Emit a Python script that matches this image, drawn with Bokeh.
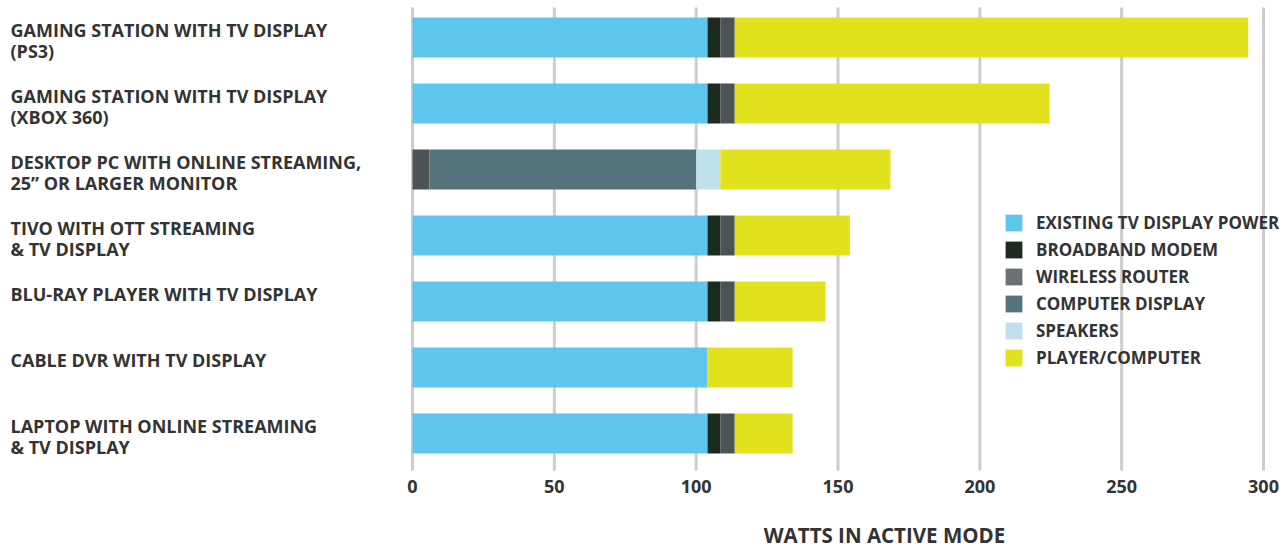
from bokeh.plotting import figure
from bokeh.models import (ColumnDataSource, Range1d, LabelSet, Label, Legend,
                          LegendItem, FixedTicker)
from bokeh.core.properties import value
from bokeh.embed import file_html
from bokeh.resources import INLINE

categories = [
    "GAMING STATION WITH TV DISPLAY\n(PS3)",
    "GAMING STATION WITH TV DISPLAY\n(XBOX 360)",
    "DESKTOP PC WITH ONLINE STREAMING,\n25\u201d OR LARGER MONITOR",
    "TIVO WITH OTT STREAMING\n& TV DISPLAY",
    "BLU-RAY PLAYER WITH TV DISPLAY",
    "CABLE DVR WITH TV DISPLAY",
    "LAPTOP WITH ONLINE STREAMING\n& TV DISPLAY",
]
tv_display = [104, 104, 0, 104, 104, 104, 104]
broadband_modem = [4.6, 4.6, 0, 4.6, 4.6, 0, 4.6]
wireless_router = [5.0, 5.0, 6.0, 5.0, 5.0, 0, 5.0]
computer_display = [0, 0, 94, 0, 0, 0, 0]
speakers = [0, 0, 8.5, 0, 0, 0, 0]
player_computer = [181, 111, 60, 40.6, 32, 30, 20.4]

series_names = ["EXISTING TV DISPLAY POWER", "BROADBAND MODEM", "WIRELESS ROUTER",
                "COMPUTER DISPLAY", "SPEAKERS", "PLAYER/COMPUTER"]
x_ticks = [0, 50, 100, 150, 200, 250, 300]
x_title = "WATTS IN ACTIVE MODE"

bar_colors = ["#5ec5ec", "#1c2a1f", "#4b5355", "#56727d", "#bfe0ea", "#e1e21d"]
legend_colors = ["#5ec5ec", "#1c2a1f", "#6d7173", "#56727d", "#bfe0ea", "#e1e21d"]

BAR_H = 0.606
keys = ["tv", "modem", "router", "display", "speakers", "player"]
ypos = list(range(len(categories)))
source = ColumnDataSource(dict(
    y=ypos, label_y=[v - BAR_H / 2 for v in ypos], label=categories,
    tv=tv_display, modem=broadband_modem, router=wireless_router,
    display=computer_display, speakers=speakers, player=player_computer))

# frame spans the whole canvas; x=0 sits at 412px, x=300 at 1263px
PX_PER_UNIT = (1263 - 412) / 300.0
X_START = -412 / PX_PER_UNIT
X_END = 300 + (1282 - 1263) / PX_PER_UNIT
ROW_PX = 66.0
Y_TOP = -37 / ROW_PX
Y_BOTTOM = (548 - 37) / ROW_PX
AXIS_Y = (470 - 37) / ROW_PX
GRID_TOP = -30 / ROW_PX

p = figure(width=1282, height=548, output_backend="svg", toolbar_location=None,
           x_range=Range1d(X_START, X_END), y_range=Range1d(Y_BOTTOM, Y_TOP),
           min_border_left=0, min_border_right=0, min_border_top=0,
           min_border_bottom=0)
p.outline_line_color = None
p.background_fill_color = "white"
p.xgrid.visible = False
p.ygrid.visible = False

# vertical grid lines at the tick values
p.segment(x0=x_ticks, y0=[GRID_TOP] * len(x_ticks), x1=x_ticks,
          y1=[AXIS_Y] * len(x_ticks), line_color="#cccccc", line_width=3)

p.hbar_stack(keys, y="y", height=BAR_H, color=bar_colors, line_color=None,
             source=source)

# legend (proxy renderers placed far outside the visible ranges)
items = []
for name, col in zip(series_names, legend_colors):
    r = p.hbar(y=[500], left=[5000], right=[5001], height=0.6, fill_color=col,
               line_color=None)
    items.append(LegendItem(label=name, renderers=[r]))
legend = Legend(items=items, location=(1003, 179), border_line_color=None,
                background_fill_alpha=0, padding=0, margin=0, spacing=4,
                glyph_width=21, glyph_height=21, label_height=21,
                label_standoff=12, label_text_font="Open Sans",
                label_text_font_size="17px", label_text_font_style="bold",
                label_text_color="#333333")
p.add_layout(legend)

# axes
p.yaxis.visible = False
p.xaxis.fixed_location = AXIS_Y
p.xaxis.ticker = FixedTicker(ticks=x_ticks)
p.xaxis.axis_line_color = None
p.xaxis.major_tick_line_color = None
p.xaxis.minor_tick_line_color = None
p.xaxis.major_tick_out = 0
p.xaxis.major_tick_in = 0
p.xaxis.major_label_standoff = 9
p.xaxis.major_label_text_font = "Open Sans"
p.xaxis.major_label_text_font_size = "18px"
p.xaxis.major_label_text_font_style = "bold"
p.xaxis.major_label_text_color = "#333333"

labels = LabelSet(x=10, y="label_y", text="label", x_units="screen",
                  source=source, text_align="left", text_baseline="top",
                  text_font=value("Open Sans"), text_font_size="18px",
                  text_font_style="bold", text_color="#333333",
                  text_line_height=0.88)
p.add_layout(labels)

title = Label(x=884, y=548 - 534, x_units="screen", y_units="screen",
              text=x_title, text_align="center", text_baseline="middle",
              text_font="Open Sans", text_font_size="20.5px",
              text_font_style="bold", text_color="#333333")
p.add_layout(title)

open("out.html", "w").write(file_html(p, INLINE))
